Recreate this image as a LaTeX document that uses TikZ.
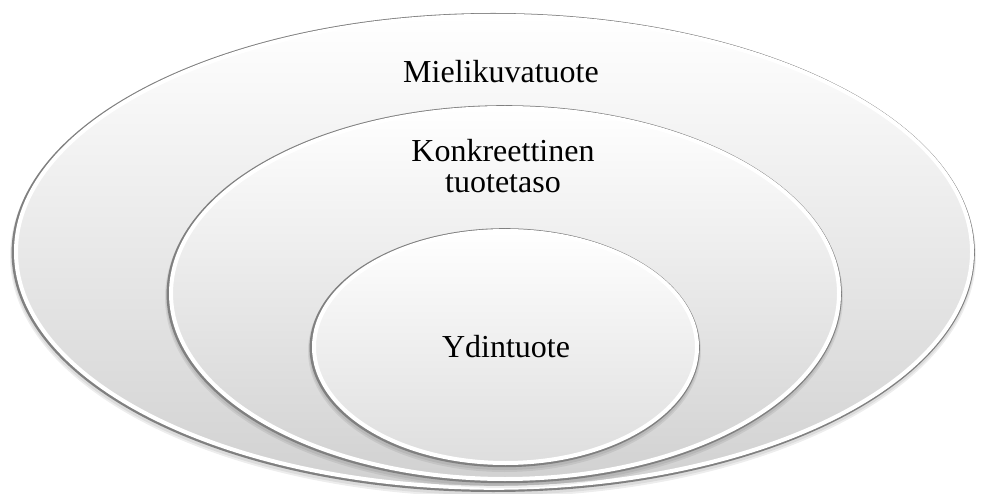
\documentclass[tikz,border=0pt]{standalone}
\usepackage{fontspec}
\setmainfont{Liberation Serif}
\usetikzlibrary{shapes.geometric}
\begin{document}
\begin{tikzpicture}[x=1pt,y=1pt]
\useasboundingbox (0,0) rectangle (982,493);
\tikzset{
  ringline/.style={fill=black!50},
  softshadow/.style={fill=black, opacity=0.07},
  layer/.style={ellipse, inner sep=0pt, draw=white, line width=4pt,
    top color=white, bottom color=black!18},
  lbl/.style={font=\fontsize{32}{31}\selectfont, align=center, text=black}
}
% outer ellipse
\fill[softshadow] (493,237) ellipse [x radius=483, y radius=241];
\fill[softshadow] (493,238) ellipse [x radius=482, y radius=240];
\fill[ringline] (493.2,240.5) ellipse [x radius=481.6, y radius=239.5];
\node[layer, minimum width=956pt, minimum height=472pt] (outer) at (494,241.2) {};
% middle ellipse
\fill[softshadow] (504,195.5) ellipse [x radius=339, y radius=190.5];
\fill[softshadow] (504,196.5) ellipse [x radius=338, y radius=189.5];
\fill[ringline] (504.2,198.8) ellipse [x radius=337.6, y radius=189];
\node[layer, minimum width=668pt, minimum height=371pt] (middle) at (505,199.5) {};
% inner ellipse
\fill[softshadow] (504.5,142) ellipse [x radius=196.5, y radius=121];
\fill[softshadow] (504.5,143) ellipse [x radius=195.5, y radius=120];
\fill[ringline] (504.7,145.3) ellipse [x radius=195.1, y radius=119.5];
\node[layer, minimum width=383pt, minimum height=232pt, bottom color=black!13] (inner) at (505.5,146) {};
% labels
\node[lbl] (t1) at (501,421) {Mielikuvatuote};
\node[lbl] (t2) at (503,327) {Konkreettinen\\tuotetaso};
\node[lbl] (t3) at (506,146) {Ydintuote};
\end{tikzpicture}
\end{document}
